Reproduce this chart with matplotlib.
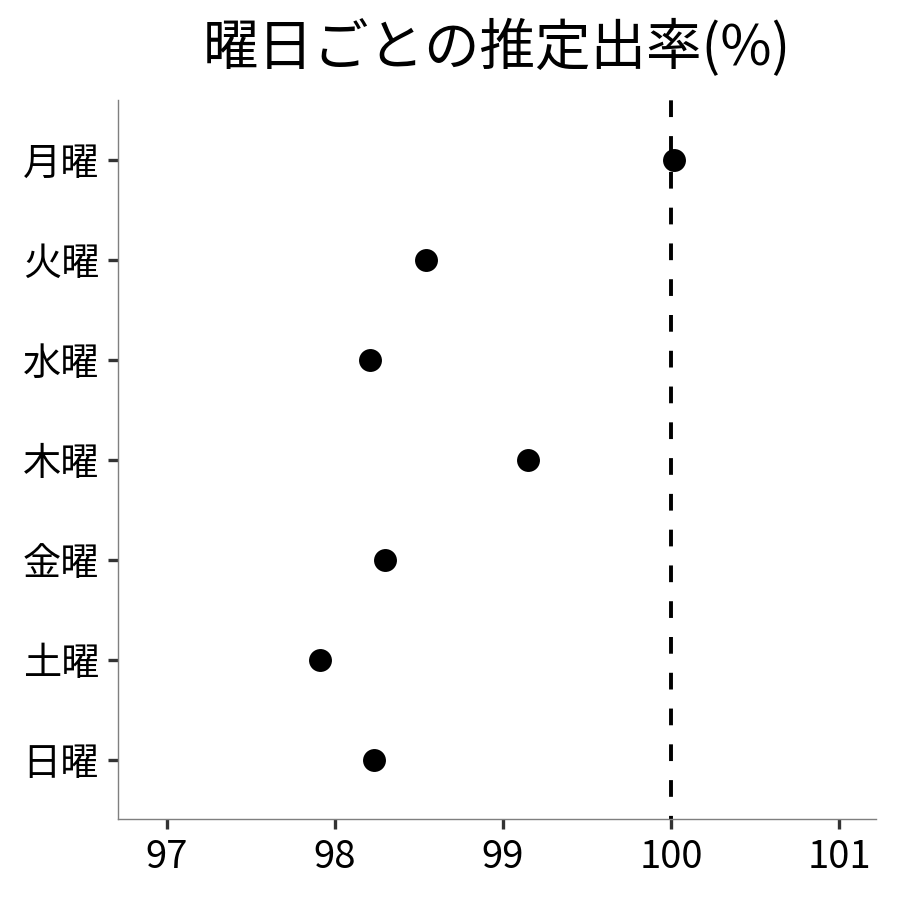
import matplotlib
matplotlib.use('Agg')
import matplotlib.pyplot as plt

plt.rcParams['font.family'] = ['Noto Sans CJK JP', 'DejaVu Sans']

# 曜日ごとの推定出率
days = ['月曜', '火曜', '水曜', '木曜', '金曜', '土曜', '日曜']
rates = [100.02, 98.54, 98.21, 99.15, 98.30, 97.91, 98.23]
reference = 100.0
x_ticks = [97, 98, 99, 100, 101]

fig = plt.figure(figsize=(9, 9), dpi=100)
ax = fig.add_axes([0.1311, 0.09, 0.8422, 0.7989])

positions = list(range(len(days)))[::-1]
ax.axvline(reference, color='black', linestyle=(3.5, (4.3, 4.9)), linewidth=2.8, zorder=1)
ax.scatter(rates, positions, s=16.5 ** 2, color='black', zorder=3, linewidths=0)

ax.set_yticks(positions)
ax.set_yticklabels(days)
ax.set_xticks(x_ticks)
ax.set_xticklabels([str(t) for t in x_ticks])
ax.set_xlim(96.708, 101.22)
ax.set_ylim(-0.59, len(days) - 1 + 0.6)

for side in ['top', 'right']:
    ax.spines[side].set_visible(False)
for side in ['left', 'bottom']:
    ax.spines[side].set_color('#7f7f7f')
    ax.spines[side].set_linewidth(1.0)

ax.tick_params(axis='both', length=7.5, width=2.4, color='#333333',
               labelsize=27.5, labelcolor='black')
ax.tick_params(axis='y', pad=6)
ax.tick_params(axis='x', pad=6)

ax.set_title('曜日ごとの推定出率(%)', fontsize=40, pad=25)

fig.savefig('out.png', dpi=100)
plt.close(fig)
